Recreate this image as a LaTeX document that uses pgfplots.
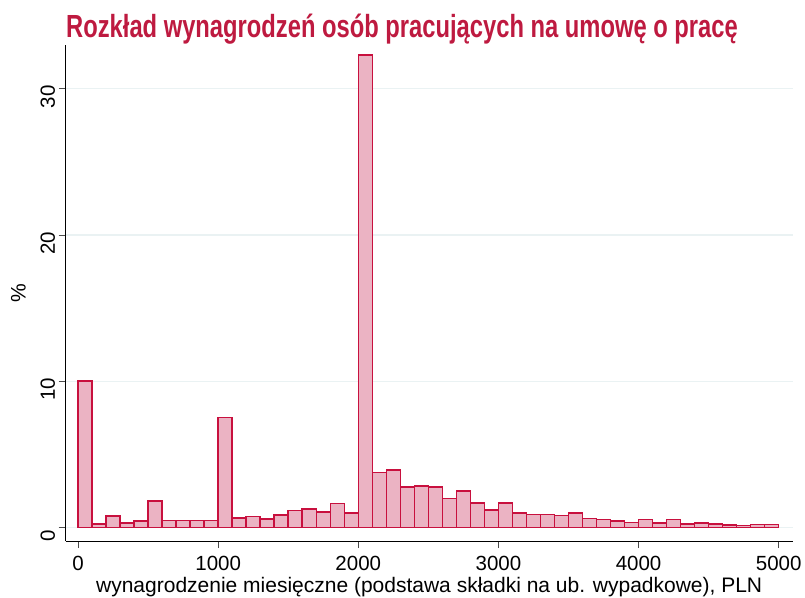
\documentclass[border=0pt]{standalone}
\usepackage{fontspec}
\setmainfont{Liberation Sans}
\newfontfamily\titlefont[FakeStretch=0.742]{Liberation Sans Bold}
\usepackage{pgfplots}
\pgfplotsset{compat=1.18}
\definecolor{barfill}{HTML}{EBB3C3}
\definecolor{baredge}{HTML}{C8103E}
\definecolor{titlecol}{HTML}{BE1A40}
\definecolor{gridcol}{HTML}{EAF2F3}
\begin{document}
\begin{tikzpicture}
\begin{axis}[
  at={(65.7bp,57bp)}, anchor=south west,
  scale only axis,
  width=727bp, height=496bp,
  xmin=-88, xmax=5100,
  ymin=-0.93, ymax=33,
  axis x line*=bottom, axis y line*=left,
  axis line style={black, line width=0.8bp, -},
  tick align=outside,
  major tick length=7bp,
  tick style={black!70, line width=0.8bp},
  xtick={0,1000,2000,3000,4000,5000},
  ytick={0,10,20,30},
  ymajorgrids,
  grid style={gridcol, line width=1.2bp},
  /pgf/number format/assume math mode=true,
  /pgf/number format/1000 sep={},
  tick label style={font=\fontsize{20.5bp}{24bp}\selectfont},
  xticklabel style={yshift=-5bp},
  yticklabel style={rotate=90, anchor=south, xshift=-8bp},
  xlabel={wynagrodzenie miesięczne (podstawa składki na ub. wypadkowe), PLN},
  ylabel={\%},
  label style={font=\fontsize{21bp}{24bp}\selectfont},
  xlabel style={yshift=1bp},
  ylabel style={yshift=8bp},
]
\addplot[ybar interval, fill=barfill, draw=baredge, line width=1.5bp] coordinates {
(0,10.0) (100,0.25) (200,0.79) (300,0.29) (400,0.45)
(500,1.79) (600,0.47) (700,0.47) (800,0.47) (900,0.47)
(1000,7.52) (1100,0.66) (1200,0.75) (1300,0.59) (1400,0.84)
(1500,1.16) (1600,1.25) (1700,1.07) (1800,1.64) (1900,1.0)
(2000,32.33) (2100,3.77) (2200,3.91) (2300,2.77) (2400,2.84)
(2500,2.77) (2600,1.98) (2700,2.48) (2800,1.68) (2900,1.18)
(3000,1.68) (3100,1.0) (3200,0.89) (3300,0.89) (3400,0.82)
(3500,1.0) (3600,0.61) (3700,0.54) (3800,0.43) (3900,0.34)
(4000,0.55) (4100,0.29) (4200,0.55) (4300,0.22) (4400,0.29)
(4500,0.22) (4600,0.18) (4700,0.14) (4800,0.2) (4900,0.2)
(5000,0.2)
};
\end{axis}
\node[anchor=base west, inner sep=0pt, text=titlecol] at (66bp,560bp)
  {\titlefont\fontsize{32bp}{36bp}\selectfont Rozkład wynagrodzeń osób pracujących na umowę o pracę};
\pgfresetboundingbox
\path[use as bounding box] (0,0) rectangle (805bp,598bp);
\end{tikzpicture}
\end{document}
